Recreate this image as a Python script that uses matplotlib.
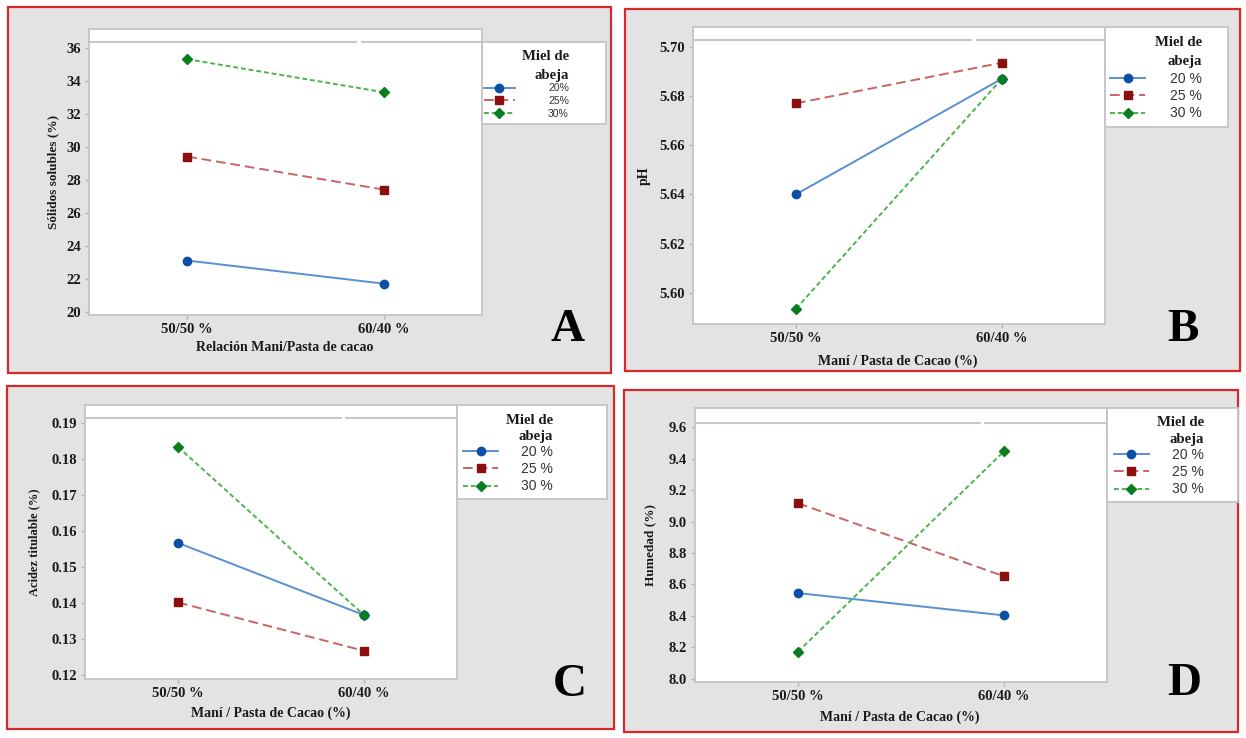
import matplotlib
matplotlib.use('Agg')
import matplotlib.pyplot as plt
from matplotlib.patches import Rectangle

W, H = 1246, 738
plt.rcParams['font.family'] = ['Liberation Serif', 'DejaVu Serif']

# ---------------- data ----------------
categories = ['50/50 %', '60/40 %']
miel_labels_A = ['20%', '25%', '30%']
miel_labels = ['20 %', '25 %', '30 %']

solidos_20 = [23.1, 21.7]
solidos_25 = [29.4, 27.4]
solidos_30 = [35.3, 33.3]

ph_20 = [5.640, 5.687]
ph_25 = [5.677, 5.6935]
ph_30 = [5.5935, 5.687]

acidez_20 = [0.1567, 0.1367]
acidez_25 = [0.1402, 0.1268]
acidez_30 = [0.1833, 0.1367]

humedad_20 = [8.545, 8.403]
humedad_25 = [9.117, 8.652]
humedad_30 = [8.172, 9.447]

yticks_A = [20, 22, 24, 26, 28, 30, 32, 34, 36]
yticks_B = [5.60, 5.62, 5.64, 5.66, 5.68, 5.70]
yticks_C = [0.12, 0.13, 0.14, 0.15, 0.16, 0.17, 0.18, 0.19]
yticks_D = [8.0, 8.2, 8.4, 8.6, 8.8, 9.0, 9.2, 9.4, 9.6]

# ---------------- styles ----------------
line_cols = ['#5a8fd2', '#c96464', '#4db44d']
mark_cols = ['#0b4fa6', '#8c0f0f', '#0a7d1e']
markers = ['o', 's', 'D']
msizes = [6, 5.8, 5.6]
dashes = [None, (5.0, 2.5), (2.5, 1.5)]

fig = plt.figure(figsize=(W / 100, H / 100), dpi=100)
fig.patch.set_facecolor('white')


def fx(x):
    return x / W


def fy(y):
    return 1 - y / H


def panel(frame, axbox, linefrac, gapfrac, legbox, ylim, yticks, yfmt, series, labels,
          label_fs, xlabel, ylabel, ylabel_fs, xlab_y, ylab_x, leg_xr, title_ys,
          entry_mid, handlelen, textpad, letter, letter_xy):
    fx0, fy0, fx1, fy1 = frame
    fig.add_artist(Rectangle((fx(fx0), fy(fy1)), (fx1 - fx0) / W, (fy1 - fy0) / H,
                             transform=fig.transFigure, facecolor='#e3e3e3',
                             edgecolor='#d7282e', lw=1.6, zorder=-5))
    x0, y0, x1, y1 = axbox
    ax = fig.add_axes([fx(x0), fy(y1), (x1 - x0) / W, (y1 - y0) / H])
    ax.set_facecolor('white')
    handles = []
    for i, ys in enumerate(series):
        ln, = ax.plot([0, 1], ys, color=line_cols[i], lw=1.4, marker=markers[i],
                      ms=msizes[i], mfc=mark_cols[i], mec=mark_cols[i], zorder=3)
        if dashes[i] is not None:
            ln.set_dashes(dashes[i])
        handles.append(ln)
    ax.set_xlim(-0.5, 1.5)
    ax.set_ylim(*ylim)
    ax.set_xticks([0, 1], labels=categories, fontweight='bold', fontsize=10.5)
    ax.set_yticks(yticks, labels=[yfmt % v for v in yticks], fontweight='bold',
                  fontsize=10.5)
    ax.tick_params(direction='out', length=3, width=1, color='#b5b5b5', pad=3,
                   labelcolor='#1a1a1a')
    for s in ax.spines.values():
        s.set_color('#c4c4c4')
        s.set_linewidth(1.3)
    g = 0.004
    for seg in ([0, gapfrac - g], [gapfrac + g, 1]):
        ax.plot(seg, [linefrac, linefrac], transform=ax.transAxes, color='#c8c8c8',
                lw=1.5, clip_on=False, zorder=2, solid_capstyle='butt')
    ax.set_xlabel(xlabel, fontweight='bold', fontsize=10, color='#1a1a1a')
    ax.set_ylabel(ylabel, fontweight='bold', fontsize=ylabel_fs, color='#1a1a1a')
    ax.xaxis.set_label_coords(0.498, xlab_y)
    ax.xaxis.label.set_va('center')
    ax.yaxis.set_label_coords(ylab_x, 0.5)
    ax.yaxis.label.set_va('center')

    lx0, ly0, lx1, ly1 = legbox
    fig.add_artist(Rectangle((fx(lx0), fy(ly1)), (lx1 - lx0) / W, (ly1 - ly0) / H,
                             transform=fig.transFigure, facecolor='white',
                             edgecolor='#c4c4c4', lw=1.3, zorder=1))
    fig.text(fx(leg_xr), fy(title_ys[0]), 'Miel de', ha='right', va='center',
             fontweight='bold', fontsize=10.6, color='#1a1a1a')
    fig.text(fx(leg_xr), fy(title_ys[1]), 'abeja', ha='right', va='center',
             fontweight='bold', fontsize=10.6, color='#1a1a1a')
    leg = fig.legend(handles, labels, loc='center right',
                     bbox_to_anchor=(fx(leg_xr), fy(entry_mid)), frameon=False,
                     prop={'family': 'Liberation Sans', 'size': label_fs},
                     handlelength=handlelen, handletextpad=textpad,
                     labelspacing=0.25, borderpad=0, borderaxespad=0)
    for t in leg.get_texts():
        t.set_color('#333333')
    leg.set_zorder(2)
    fig.text(fx(letter_xy[0]), fy(letter_xy[1]), letter, ha='center', va='baseline',
             fontsize=34, fontweight='bold', color='black')
    return ax


panel(frame=(8, 7, 611, 373), axbox=(89, 29, 482, 315), linefrac=0.9556, gapfrac=0.687,
      legbox=(482, 42, 606, 124), ylim=(19.8, 37.13), yticks=yticks_A, yfmt='%d',
      series=[solidos_20, solidos_25, solidos_30], labels=miel_labels_A, label_fs=7.5,
      xlabel='Relación Mani/Pasta de cacao', ylabel='Sólidos solubles (%)',
      ylabel_fs=9.5, xlab_y=-0.115, ylab_x=-0.092, leg_xr=569, title_ys=(57, 75),
      entry_mid=101, handlelen=3.0, textpad=3.2, letter='A', letter_xy=(568, 341))

panel(frame=(625, 9, 1240, 371), axbox=(693, 27, 1105, 324), linefrac=0.956, gapfrac=0.682,
      legbox=(1105, 27, 1228, 127), ylim=(5.5873, 5.708), yticks=yticks_B,
      yfmt='%.2f', series=[ph_20, ph_25, ph_30], labels=miel_labels, label_fs=10,
      xlabel='Maní / Pasta de Cacao (%)', ylabel='pH', ylabel_fs=10,
      xlab_y=-0.125, ylab_x=-0.119, leg_xr=1202, title_ys=(43, 62), entry_mid=96,
      handlelen=2.5, textpad=1.8, letter='B', letter_xy=(1183, 341))

panel(frame=(7, 386, 614, 729), axbox=(85, 405, 457, 679), linefrac=0.951, gapfrac=0.696,
      legbox=(457, 405, 607, 499), ylim=(0.119, 0.1949), yticks=yticks_C,
      yfmt='%.2f', series=[acidez_20, acidez_25, acidez_30], labels=miel_labels,
      label_fs=10, xlabel='Maní / Pasta de Cacao (%)', ylabel='Acidez titulable (%)',
      ylabel_fs=9, xlab_y=-0.124, ylab_x=-0.137, leg_xr=553, title_ys=(420, 437),
      entry_mid=469, handlelen=2.45, textpad=1.7, letter='C', letter_xy=(570, 696))

panel(frame=(624, 390, 1238, 732), axbox=(695, 408, 1107, 682), linefrac=0.945, gapfrac=0.697,
      legbox=(1107, 408, 1238, 502), ylim=(7.979, 9.723), yticks=yticks_D,
      yfmt='%.1f', series=[humedad_20, humedad_25, humedad_30], labels=miel_labels,
      label_fs=10, xlabel='Maní / Pasta de Cacao (%)', ylabel='Humedad (%)',
      ylabel_fs=9.5, xlab_y=-0.128, ylab_x=-0.109, leg_xr=1204, title_ys=(423, 440),
      entry_mid=472, handlelen=2.5, textpad=1.7, letter='D', letter_xy=(1184, 695))

fig.savefig('out.png', dpi=100, facecolor='white')
